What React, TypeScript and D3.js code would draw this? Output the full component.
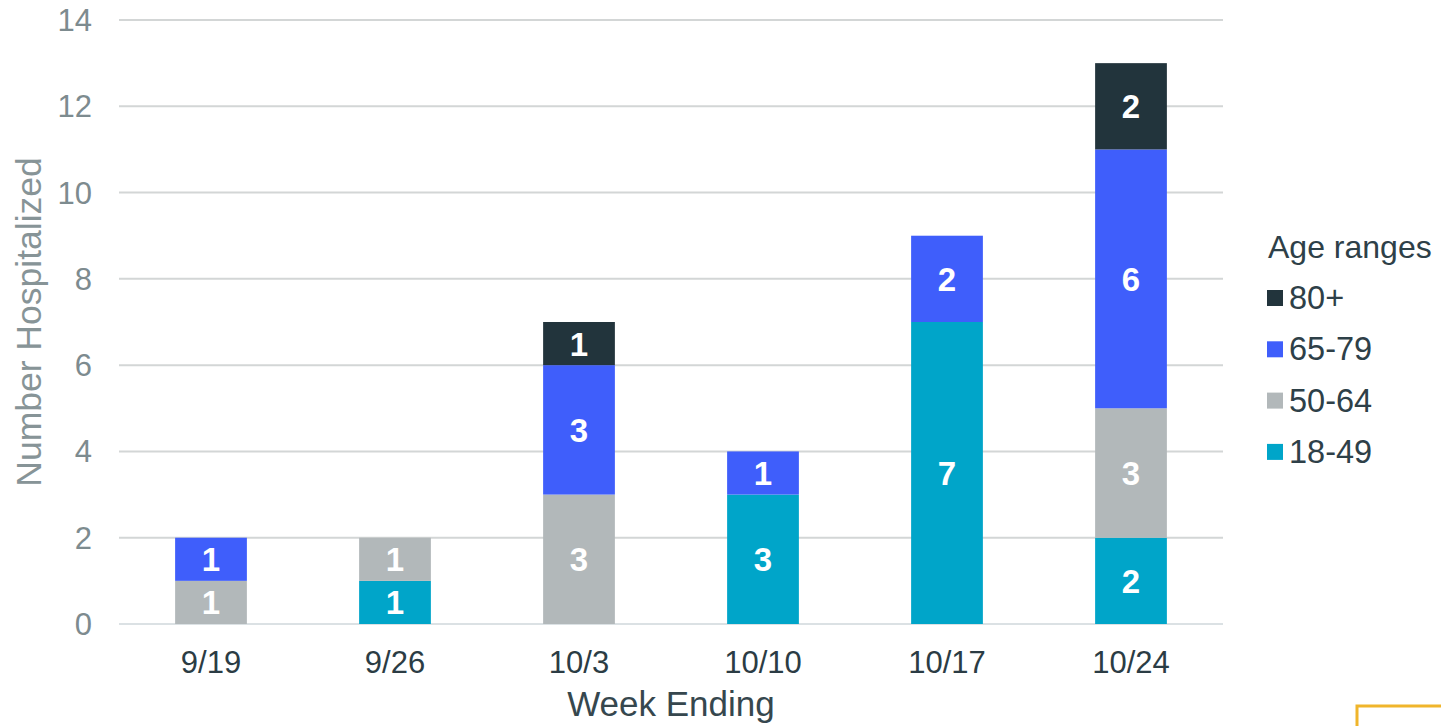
import * as d3 from "d3";

const weeks = ["9/19", "9/26", "10/3", "10/10", "10/17", "10/24"];
const ageGroups = ["18-49", "50-64", "65-79", "80+"];
const age18to49 = [0, 1, 0, 3, 7, 2];
const age50to64 = [1, 1, 3, 0, 0, 3];
const age65to79 = [1, 0, 3, 1, 2, 6];
const age80plus = [0, 0, 1, 0, 0, 2];
const yTicks = [0, 2, 4, 6, 8, 10, 12, 14];

const COLORS: Record<string, string> = {
  "18-49": "#00a5c9",
  "50-64": "#b2b8ba",
  "65-79": "#3f5efb",
  "80+": "#22343c",
};

const FONT = "Arial, 'Liberation Sans', Helvetica, sans-serif";

const W = 1441;
const H = 726;
const left = 119;
const right = 1223;
const top = 20;
const bottom = 624;

export default function App() {
  const rows = weeks.map((w, i) => ({
    week: w,
    "18-49": age18to49[i],
    "50-64": age50to64[i],
    "65-79": age65to79[i],
    "80+": age80plus[i],
  }));

  const stack = d3.stack<any>().keys(ageGroups);
  const series = stack(rows);

  const x = d3.scaleBand().domain(weeks).range([left, right]).paddingInner(0.61).paddingOuter(0.305);
  const y = d3.scaleLinear().domain([0, 14]).range([bottom, top]);

  const legendItems = [...ageGroups].reverse();

  return (
    <svg
      width={W}
      height={H}
      style={{ position: "absolute", left: 0, top: 0, background: "#fff" }}
      fontFamily={FONT}
    >
      {/* gridlines */}
      {yTicks.map((t) => (
        <line
          key={t}
          x1={left}
          x2={right}
          y1={y(t)}
          y2={y(t)}
          stroke={t === 0 ? "#dbe1e4" : "#d3d6d6"}
          strokeWidth={2}
        />
      ))}
      {/* y tick labels */}
      {yTicks.map((t) => (
        <text key={t} x={92} y={y(t) + 11} textAnchor="end" fontSize={31} fill="#7d8b8f">
          {t}
        </text>
      ))}

      {/* bars */}
      {series.map((s) => (
        <g key={s.key} fill={COLORS[s.key]}>
          {s.map((d, i) =>
            d[1] - d[0] > 0 ? (
              <rect
                key={i}
                x={x(weeks[i])}
                y={y(d[1])}
                width={x.bandwidth()}
                height={y(d[0]) - y(d[1])}
              />
            ) : null
          )}
        </g>
      ))}
      {/* bar labels */}
      {series.map((s) => (
        <g key={s.key + "-lbl"}>
          {s.map((d, i) =>
            d[1] - d[0] > 0 ? (
              <text
                key={i}
                x={(x(weeks[i]) as number) + x.bandwidth() / 2}
                y={y((d[0] + d[1]) / 2) + 12}
                textAnchor="middle"
                fontSize={33}
                fontWeight="bold"
                fill="#ffffff"
              >
                {d[1] - d[0]}
              </text>
            ) : null
          )}
        </g>
      ))}

      {/* x tick labels */}
      {weeks.map((w) => (
        <text
          key={w}
          x={(x(w) as number) + x.bandwidth() / 2}
          y={673}
          textAnchor="middle"
          fontSize={31}
          fill="#2b3c44"
        >
          {w}
        </text>
      ))}

      {/* axis titles */}
      <text x={671} y={716} textAnchor="middle" fontSize={35} fill="#36474e">
        Week Ending
      </text>
      <text
        transform={`translate(41, ${(top + bottom) / 2}) rotate(-90)`}
        textAnchor="middle"
        fontSize={35.5}
        fill="#879497"
      >
        Number Hospitalized
      </text>

      {/* legend */}
      <text x={1268} y={258} fontSize={32} fill="#2e4048">
        Age ranges
      </text>
      {legendItems.map((k, i) => (
        <g key={k} transform={`translate(1267, ${298 + i * 51.3})`}>
          <rect x={0} y={-8} width={16} height={16} fill={COLORS[k]} />
          <text x={22} y={11} fontSize={32.5} fill="#2e4048">
            {k}
          </text>
        </g>
      ))}

      {/* corner accent */}
      <path d={`M1357,726 V706 H${W}`} fill="none" stroke="#f0b52b" strokeWidth={3} />
    </svg>
  );
}
